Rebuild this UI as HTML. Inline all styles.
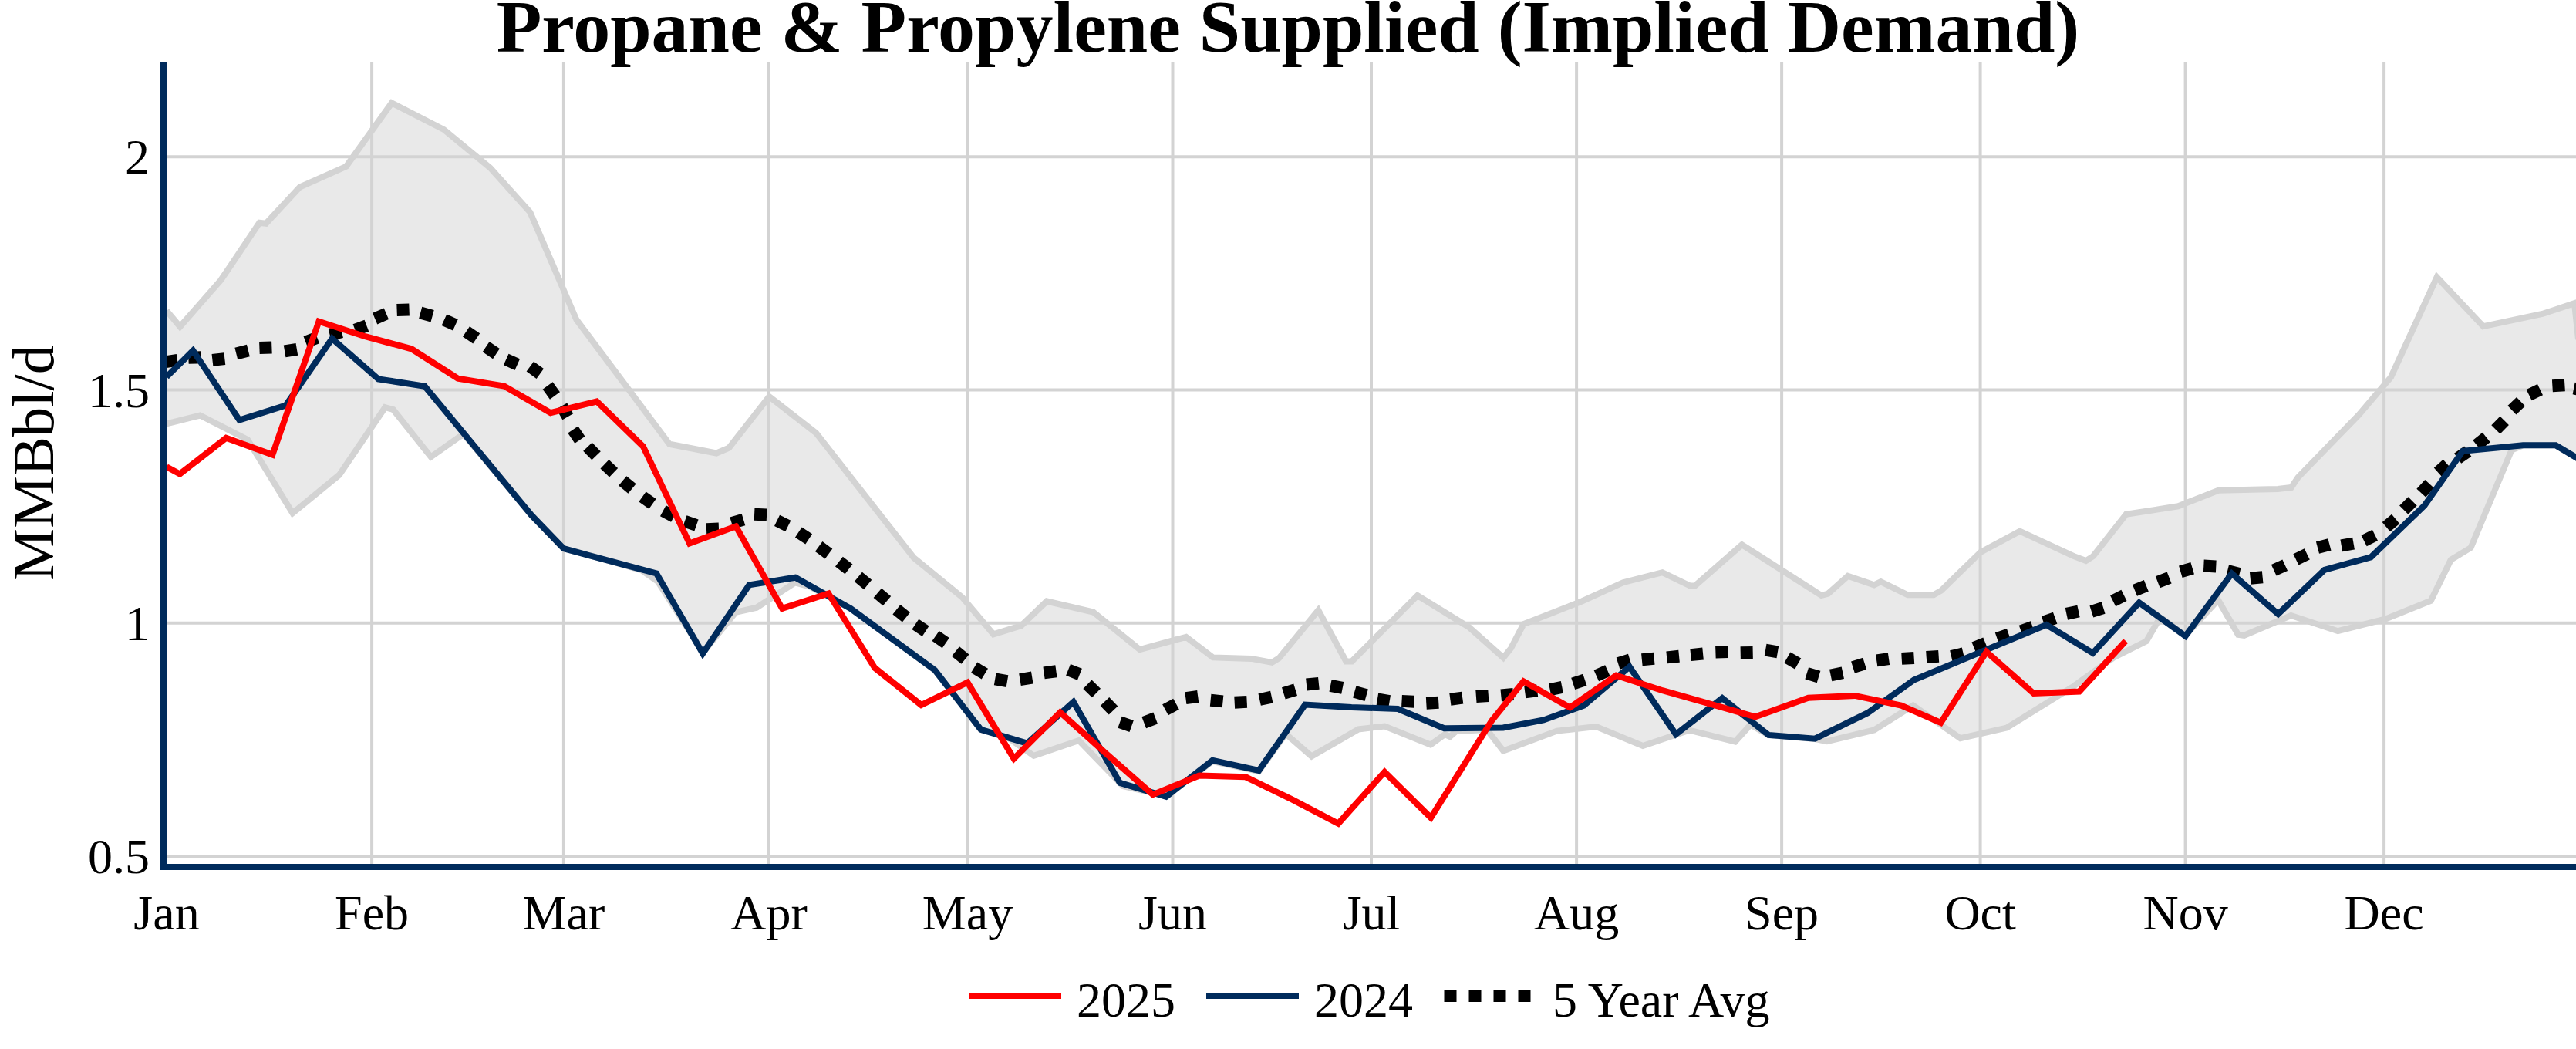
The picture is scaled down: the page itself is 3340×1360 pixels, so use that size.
<!DOCTYPE html>
<html><head><meta charset="utf-8"><title>Propane &amp; Propylene Supplied (Implied Demand)</title>
<style>html,body{margin:0;padding:0;background:#fff}svg{display:block}text{font-family:"Liberation Serif",serif;fill:#000}</style></head><body>
<svg width="3340" height="1360" viewBox="0 0 3340 1360">
<rect width="3340" height="1360" fill="#fff"/>
<defs><clipPath id="plot"><rect x="216" y="80" width="3124" height="1040"/></clipPath></defs>
<g stroke="#d3d3d3" stroke-width="4"><line x1="482.1" x2="482.1" y1="80" y2="1120"/><line x1="730.9" x2="730.9" y1="80" y2="1120"/><line x1="997.0" x2="997.0" y1="80" y2="1120"/><line x1="1254.5" x2="1254.5" y1="80" y2="1120"/><line x1="1520.5" x2="1520.5" y1="80" y2="1120"/><line x1="1778.0" x2="1778.0" y1="80" y2="1120"/><line x1="2044.1" x2="2044.1" y1="80" y2="1120"/><line x1="2310.1" x2="2310.1" y1="80" y2="1120"/><line x1="2567.6" x2="2567.6" y1="80" y2="1120"/><line x1="2833.6" x2="2833.6" y1="80" y2="1120"/><line x1="3091.1" x2="3091.1" y1="80" y2="1120"/><line x1="216" x2="3340" y1="203.2" y2="203.2"/><line x1="216" x2="3340" y1="505.5" y2="505.5"/><line x1="216" x2="3340" y1="807.7" y2="807.7"/><line x1="216" x2="3340" y1="1110" y2="1110"/></g>
<g clip-path="url(#plot)">
<polygon points="216.0,402.9 233.4,423.5 286.2,363.3 300.0,343.0 336.3,288.7 344.9,289.8 388.7,242.6 448.8,215.8 507.9,133.5 575.5,168.0 635.6,217.6 687.3,275.2 747.4,414.5 868.1,575.8 928.9,587.5 945.1,580.7 997.3,514.0 1058.1,561.4 1184.8,723.1 1247.7,774.5 1288.1,822.3 1324.1,811.1 1357.2,779.5 1417.4,793.5 1477.8,842.0 1537.9,825.8 1572.7,852.4 1622.4,853.9 1649.2,858.9 1658.4,853.2 1709.3,791.1 1745.3,857.4 1752.8,857.4 1837.9,772.0 1904.5,813.0 1949.2,852.8 1959.1,840.4 1975.3,809.3 2051.1,779.5 2104.5,755.2 2155.4,742.2 2191.4,759.6 2197.6,759.6 2258.5,706.2 2361.6,772.0 2370.3,769.6 2395.9,746.7 2429.9,758.4 2438.6,754.2 2473.5,771.3 2507.1,771.3 2517.0,765.6 2567.9,715.9 2618.9,688.6 2688.4,720.9 2704.6,727.0 2714.0,721.0 2756.7,666.8 2824.2,656.3 2876.4,635.7 2953.4,633.9 2970.8,631.9 2979.5,619.0 3057.8,538.5 3100.0,489.0 3159.6,359.3 3219.8,423.2 3296.3,407.0 3338.0,393.2 3343.0,440.0 3345.0,596.0 3313.7,577.3 3271.4,577.3 3256.5,583.5 3203.6,710.1 3177.7,725.9 3151.8,778.8 3093.3,802.5 3031.3,818.2 2970.5,798.0 2909.7,823.8 2901.9,822.7 2876.0,777.7 2833.6,824.0 2805.0,803.0 2797.5,806.2 2783.0,831.3 2740.6,852.5 2727.0,862.1 2688.4,889.8 2601.8,943.6 2541.7,957.2 2480.5,914.5 2430.0,946.5 2368.9,961.1 2353.3,958.0 2293.0,953.0 2269.7,939.6 2249.8,961.5 2190.2,946.6 2130.1,967.0 2069.7,942.1 2018.8,947.6 1949.2,973.4 1928.0,946.0 1888.0,948.0 1880.0,955.0 1873.4,952.0 1854.8,965.5 1795.4,941.5 1761.3,945.5 1700.6,980.5 1667.0,951.3 1632.2,1000.0 1572.1,987.0 1512.0,1032.0 1456.0,1019.0 1398.8,960.0 1340.4,979.9 1306.8,956.3 1271.7,946.0 1212.2,869.0 1102.9,789.0 1050.0,760.5 1030.8,755.4 981.1,787.7 953.8,793.9 911.5,846.0 853.0,754.0 832.0,739.5 791.0,727.3 730.9,711.2 689.2,668.1 602.0,564.0 596.0,566.0 558.7,592.4 509.8,531.0 499.3,528.2 439.9,615.7 379.4,665.3 321.1,570.0 259.4,538.5 216.0,549.4" fill="rgb(211,211,211)" fill-opacity="0.5"/>
<polyline points="216.0,549.4 259.4,538.5 321.1,570.0 379.4,665.3 439.9,615.7 499.3,528.2 509.8,531.0 558.7,592.4 596.0,566.0 602.0,564.0 689.2,668.1 730.9,711.2 791.0,727.3 832.0,739.5 853.0,754.0 911.5,846.0 953.8,793.9 981.1,787.7 1030.8,755.4 1050.0,760.5 1102.9,789.0 1212.2,869.0 1271.7,946.0 1306.8,956.3 1340.4,979.9 1398.8,960.0 1456.0,1019.0 1512.0,1032.0 1572.1,987.0 1632.2,1000.0 1667.0,951.3 1700.6,980.5 1761.3,945.5 1795.4,941.5 1854.8,965.5 1873.4,952.0 1880.0,955.0 1888.0,948.0 1928.0,946.0 1949.2,973.4 2018.8,947.6 2069.7,942.1 2130.1,967.0 2190.2,946.6 2249.8,961.5 2269.7,939.6 2293.0,953.0 2353.3,958.0 2368.9,961.1 2430.0,946.5 2480.5,914.5 2541.7,957.2 2601.8,943.6 2688.4,889.8 2727.0,862.1 2740.6,852.5 2783.0,831.3 2797.5,806.2 2805.0,803.0 2833.6,824.0 2876.0,777.7 2901.9,822.7 2909.7,823.8 2970.5,798.0 3031.3,818.2 3093.3,802.5 3151.8,778.8 3177.7,725.9 3203.6,710.1 3256.5,583.5 3271.4,577.3 3313.7,577.3 3345.0,596.0" fill="none" stroke="#d3d3d3" stroke-width="8" stroke-linejoin="miter"/>
<polyline points="216.0,402.9 233.4,423.5 286.2,363.3 300.0,343.0 336.3,288.7 344.9,289.8 388.7,242.6 448.8,215.8 507.9,133.5 575.5,168.0 635.6,217.6 687.3,275.2 747.4,414.5 868.1,575.8 928.9,587.5 945.1,580.7 997.3,514.0 1058.1,561.4 1184.8,723.1 1247.7,774.5 1288.1,822.3 1324.1,811.1 1357.2,779.5 1417.4,793.5 1477.8,842.0 1537.9,825.8 1572.7,852.4 1622.4,853.9 1649.2,858.9 1658.4,853.2 1709.3,791.1 1745.3,857.4 1752.8,857.4 1837.9,772.0 1904.5,813.0 1949.2,852.8 1959.1,840.4 1975.3,809.3 2051.1,779.5 2104.5,755.2 2155.4,742.2 2191.4,759.6 2197.6,759.6 2258.5,706.2 2361.6,772.0 2370.3,769.6 2395.9,746.7 2429.9,758.4 2438.6,754.2 2473.5,771.3 2507.1,771.3 2517.0,765.6 2567.9,715.9 2618.9,688.6 2688.4,720.9 2704.6,727.0 2714.0,721.0 2756.7,666.8 2824.2,656.3 2876.4,635.7 2953.4,633.9 2970.8,631.9 2979.5,619.0 3057.8,538.5 3100.0,489.0 3159.6,359.3 3219.8,423.2 3296.3,407.0 3338.0,393.2 3343.0,440.0" fill="none" stroke="#d3d3d3" stroke-width="8" stroke-linejoin="miter"/>
<g fill="#000"><rect x="-8" y="-8" width="16" height="16" transform="translate(222.1,468.1) rotate(-8.6)"/><rect x="-8" y="-8" width="16" height="16" transform="translate(252.4,463.5) rotate(-2.0)"/><rect x="-8" y="-8" width="16" height="16" transform="translate(283.4,466.0) rotate(-6.5)"/><rect x="-8" y="-8" width="16" height="16" transform="translate(314.1,456.5) rotate(-14.1)"/><rect x="-8" y="-8" width="16" height="16" transform="translate(344.4,450.7) rotate(-2.2)"/><rect x="-8" y="-8" width="16" height="16" transform="translate(377.0,454.1) rotate(-9.6)"/><rect x="-8" y="-8" width="16" height="16" transform="translate(403.8,440.6) rotate(-20.8)"/><rect x="-8" y="-8" width="16" height="16" transform="translate(435.3,432.0) rotate(-13.7)"/><rect x="-8" y="-8" width="16" height="16" transform="translate(467.9,425.0) rotate(-20.8)"/><rect x="-8" y="-8" width="16" height="16" transform="translate(493.5,409.9) rotate(-23.1)"/><rect x="-8" y="-8" width="16" height="16" transform="translate(522.6,401.7) rotate(-2.2)"/><rect x="-8" y="-8" width="16" height="16" transform="translate(552.9,407.6) rotate(15.1)"/><rect x="-8" y="-8" width="16" height="16" transform="translate(583.2,418.0) rotate(24.6)"/><rect x="-8" y="-8" width="16" height="16" transform="translate(611.1,434.3) rotate(34.0)"/><rect x="-8" y="-8" width="16" height="16" transform="translate(636.8,454.1) rotate(33.7)"/><rect x="-8" y="-8" width="16" height="16" transform="translate(663.5,469.3) rotate(24.3)"/><rect x="-8" y="-8" width="16" height="16" transform="translate(693.8,479.8) rotate(35.9)"/><rect x="-8" y="-8" width="16" height="16" transform="translate(714.8,506.5) rotate(54.3)"/><rect x="-8" y="-8" width="16" height="16" transform="translate(732.3,533.3) rotate(60.3)"/><rect x="-8" y="-8" width="16" height="16" transform="translate(747.4,563.6) rotate(55.8)"/><rect x="-8" y="-8" width="16" height="16" transform="translate(767.5,585.0) rotate(45.9)"/><rect x="-8" y="-8" width="16" height="16" transform="translate(789.8,607.3) rotate(43.4)"/><rect x="-8" y="-8" width="16" height="16" transform="translate(813.4,628.4) rotate(39.7)"/><rect x="-8" y="-8" width="16" height="16" transform="translate(839.5,648.6) rotate(35.2)"/><rect x="-8" y="-8" width="16" height="16" transform="translate(866.8,666.0) rotate(28.1)"/><rect x="-8" y="-8" width="16" height="16" transform="translate(895.4,678.4) rotate(19.1)"/><rect x="-8" y="-8" width="16" height="16" transform="translate(924.0,685.8) rotate(-2.4)"/><rect x="-8" y="-8" width="16" height="16" transform="translate(956.3,675.9) rotate(-16.7)"/><rect x="-8" y="-8" width="16" height="16" transform="translate(986.1,667.2) rotate(2.5)"/><rect x="-8" y="-8" width="16" height="16" transform="translate(1014.7,678.4) rotate(26.0)"/><rect x="-8" y="-8" width="16" height="16" transform="translate(1042.0,694.5) rotate(33.1)"/><rect x="-8" y="-8" width="16" height="16" transform="translate(1068.1,713.2) rotate(36.4)"/><rect x="-8" y="-8" width="16" height="16" transform="translate(1094.2,733.0) rotate(38.0)"/><rect x="-8" y="-8" width="16" height="16" transform="translate(1119.0,752.9) rotate(39.5)"/><rect x="-8" y="-8" width="16" height="16" transform="translate(1143.9,774.0) rotate(40.4)"/><rect x="-8" y="-8" width="16" height="16" transform="translate(1168.7,795.2) rotate(38.7)"/><rect x="-8" y="-8" width="16" height="16" transform="translate(1193.5,813.8) rotate(33.6)"/><rect x="-8" y="-8" width="16" height="16" transform="translate(1219.7,829.1) rotate(34.7)"/><rect x="-8" y="-8" width="16" height="16" transform="translate(1245.2,849.6) rotate(38.8)"/><rect x="-8" y="-8" width="16" height="16" transform="translate(1270.0,869.5) rotate(31.2)"/><rect x="-8" y="-8" width="16" height="16" transform="translate(1298.1,881.7) rotate(9.7)"/><rect x="-8" y="-8" width="16" height="16" transform="translate(1330.4,879.8) rotate(-9.3)"/><rect x="-8" y="-8" width="16" height="16" transform="translate(1361.5,871.3) rotate(-7.8)"/><rect x="-8" y="-8" width="16" height="16" transform="translate(1392.5,871.3) rotate(21.7)"/><rect x="-8" y="-8" width="16" height="16" transform="translate(1415.7,892.9) rotate(44.0)"/><rect x="-8" y="-8" width="16" height="16" transform="translate(1438.0,915.3) rotate(46.3)"/><rect x="-8" y="-8" width="16" height="16" transform="translate(1459.6,938.9) rotate(19.4)"/><rect x="-8" y="-8" width="16" height="16" transform="translate(1490.7,933.9) rotate(-21.0)"/><rect x="-8" y="-8" width="16" height="16" transform="translate(1518.0,916.5) rotate(-28.6)"/><rect x="-8" y="-8" width="16" height="16" transform="translate(1545.3,904.1) rotate(-7.6)"/><rect x="-8" y="-8" width="16" height="16" transform="translate(1577.6,908.6) rotate(5.6)"/><rect x="-8" y="-8" width="16" height="16" transform="translate(1608.7,910.3) rotate(-3.0)"/><rect x="-8" y="-8" width="16" height="16" transform="translate(1641.0,905.3) rotate(-12.2)"/><rect x="-8" y="-8" width="16" height="16" transform="translate(1672.0,896.6) rotate(-17.0)"/><rect x="-8" y="-8" width="16" height="16" transform="translate(1701.9,886.7) rotate(-5.8)"/><rect x="-8" y="-8" width="16" height="16" transform="translate(1732.9,890.4) rotate(11.3)"/><rect x="-8" y="-8" width="16" height="16" transform="translate(1764.0,899.1) rotate(15.9)"/><rect x="-8" y="-8" width="16" height="16" transform="translate(1793.8,907.8) rotate(9.4)"/><rect x="-8" y="-8" width="16" height="16" transform="translate(1825.5,909.3) rotate(3.1)"/><rect x="-8" y="-8" width="16" height="16" transform="translate(1857.3,911.2) rotate(-3.3)"/><rect x="-8" y="-8" width="16" height="16" transform="translate(1888.3,905.7) rotate(-7.7)"/><rect x="-8" y="-8" width="16" height="16" transform="translate(1921.9,902.5) rotate(-4.3)"/><rect x="-8" y="-8" width="16" height="16" transform="translate(1954.2,900.7) rotate(-5.6)"/><rect x="-8" y="-8" width="16" height="16" transform="translate(1985.2,896.3) rotate(-7.4)"/><rect x="-8" y="-8" width="16" height="16" transform="translate(2017.5,892.5) rotate(-11.3)"/><rect x="-8" y="-8" width="16" height="16" transform="translate(2047.3,883.9) rotate(-18.4)"/><rect x="-8" y="-8" width="16" height="16" transform="translate(2077.1,872.7) rotate(-24.1)"/><rect x="-8" y="-8" width="16" height="16" transform="translate(2105.7,857.8) rotate(-17.0)"/><rect x="-8" y="-8" width="16" height="16" transform="translate(2136.8,854.5) rotate(-5.6)"/><rect x="-8" y="-8" width="16" height="16" transform="translate(2169.1,851.6) rotate(-5.6)"/><rect x="-8" y="-8" width="16" height="16" transform="translate(2200.1,848.3) rotate(-5.7)"/><rect x="-8" y="-8" width="16" height="16" transform="translate(2232.4,845.3) rotate(-2.0)"/><rect x="-8" y="-8" width="16" height="16" transform="translate(2264.7,846.1) rotate(-1.1)"/><rect x="-8" y="-8" width="16" height="16" transform="translate(2297.0,844.1) rotate(9.9)"/><rect x="-8" y="-8" width="16" height="16" transform="translate(2324.3,856.5) rotate(30.2)"/><rect x="-8" y="-8" width="16" height="16" transform="translate(2350.4,875.2) rotate(16.9)"/><rect x="-8" y="-8" width="16" height="16" transform="translate(2381.5,873.9) rotate(-11.8)"/><rect x="-8" y="-8" width="16" height="16" transform="translate(2410.1,862.7) rotate(-17.3)"/><rect x="-8" y="-8" width="16" height="16" transform="translate(2441.1,855.3) rotate(-8.3)"/><rect x="-8" y="-8" width="16" height="16" transform="translate(2473.7,853.4) rotate(-3.5)"/><rect x="-8" y="-8" width="16" height="16" transform="translate(2505.7,851.4) rotate(-3.8)"/><rect x="-8" y="-8" width="16" height="16" transform="translate(2537.8,849.1) rotate(-13.3)"/><rect x="-8" y="-8" width="16" height="16" transform="translate(2566.9,836.9) rotate(-22.0)"/><rect x="-8" y="-8" width="16" height="16" transform="translate(2597.0,825.2) rotate(-19.3)"/><rect x="-8" y="-8" width="16" height="16" transform="translate(2628.0,815.5) rotate(-19.5)"/><rect x="-8" y="-8" width="16" height="16" transform="translate(2657.1,803.9) rotate(-19.8)"/><rect x="-8" y="-8" width="16" height="16" transform="translate(2687.2,794.2) rotate(-12.2)"/><rect x="-8" y="-8" width="16" height="16" transform="translate(2719.5,790.4) rotate(-17.4)"/><rect x="-8" y="-8" width="16" height="16" transform="translate(2746.8,775.5) rotate(-26.6)"/><rect x="-8" y="-8" width="16" height="16" transform="translate(2775.4,762.4) rotate(-22.0)"/><rect x="-8" y="-8" width="16" height="16" transform="translate(2805.2,751.9) rotate(-21.4)"/><rect x="-8" y="-8" width="16" height="16" transform="translate(2835.0,739.0) rotate(-16.6)"/><rect x="-8" y="-8" width="16" height="16" transform="translate(2865.3,734.0) rotate(2.8)"/><rect x="-8" y="-8" width="16" height="16" transform="translate(2895.9,742.0) rotate(13.9)"/><rect x="-8" y="-8" width="16" height="16" transform="translate(2925.7,749.0) rotate(-5.7)"/><rect x="-8" y="-8" width="16" height="16" transform="translate(2955.5,736.0) rotate(-24.9)"/><rect x="-8" y="-8" width="16" height="16" transform="translate(2984.1,721.9) rotate(-26.1)"/><rect x="-8" y="-8" width="16" height="16" transform="translate(3012.7,708.0) rotate(-14.9)"/><rect x="-8" y="-8" width="16" height="16" transform="translate(3043.7,706.0) rotate(-10.0)"/><rect x="-8" y="-8" width="16" height="16" transform="translate(3072.3,697.5) rotate(-26.5)"/><rect x="-8" y="-8" width="16" height="16" transform="translate(3100.0,677.9) rotate(-40.0)"/><rect x="-8" y="-8" width="16" height="16" transform="translate(3122.4,655.5) rotate(-45.0)"/><rect x="-8" y="-8" width="16" height="16" transform="translate(3144.7,633.2) rotate(-47.3)"/><rect x="-8" y="-8" width="16" height="16" transform="translate(3167.1,607.1) rotate(-41.9)"/><rect x="-8" y="-8" width="16" height="16" transform="translate(3193.2,589.7) rotate(-34.9)"/><rect x="-8" y="-8" width="16" height="16" transform="translate(3217.5,572.0) rotate(-38.6)"/><rect x="-8" y="-8" width="16" height="16" transform="translate(3241.6,551.1) rotate(-45.3)"/><rect x="-8" y="-8" width="16" height="16" transform="translate(3262.7,526.3) rotate(-43.6)"/><rect x="-8" y="-8" width="16" height="16" transform="translate(3286.3,508.6) rotate(-25.9)"/><rect x="-8" y="-8" width="16" height="16" transform="translate(3317.4,499.7) rotate(-3.5)"/><rect x="-8" y="-8" width="16" height="16" transform="translate(3345.0,505.0) rotate(10.9)"/></g>
<polyline points="216.0,488.5 250.3,454.6 310.4,544.6 370.5,525.6 430.6,439.0 490.6,491.4 550.7,500.7 689.2,668.1 730.9,711.2 791.0,727.3 851.1,743.5 911.2,847.3 971.3,758.4 1031.3,748.7 1102.9,788.9 1212.2,868.8 1271.7,945.8 1331.8,963.7 1391.8,910.0 1451.9,1014.8 1512.0,1032.9 1572.1,985.9 1632.2,999.0 1692.2,913.5 1752.3,917.0 1812.4,919.0 1872.5,944.2 1949.0,943.5 2001.4,933.4 2053.5,914.8 2112.8,864.5 2172.9,952.1 2233.0,905.2 2293.1,952.9 2353.3,957.7 2421.7,924.2 2481.5,881.5 2653.4,810.0 2713.5,846.7 2773.6,781.3 2833.6,824.7 2893.7,743.5 2953.8,796.1 3013.9,738.9 3074.0,722.3 3143.5,655.5 3193.2,584.7 3271.4,577.3 3313.7,577.3 3345.0,596.0" fill="none" stroke="#002b5c" stroke-width="8" stroke-linejoin="miter" stroke-miterlimit="4"/>
<polyline points="216.0,605.2 233.2,614.5 293.2,567.8 353.3,589.6 413.4,416.8 473.5,436.2 533.5,452.3 593.6,490.7 653.7,500.5 713.8,535.2 773.8,520.5 833.9,578.8 894.0,704.4 954.1,682.4 1014.2,788.9 1074.2,769.5 1134.3,866.0 1194.4,914.0 1254.5,884.7 1314.6,983.6 1374.6,923.5 1434.7,977.5 1494.8,1030.2 1554.9,1005.6 1615.0,1007.3 1675.1,1036.4 1735.2,1067.7 1795.2,1000.8 1855.2,1060.2 1934.0,934.5 1975.4,883.3 2035.5,917.2 2095.6,875.6 2155.6,895.2 2215.7,912.2 2275.8,929.3 2344.6,904.8 2404.8,901.9 2465.0,914.5 2516.4,936.9 2575.6,845.0 2636.8,899.0 2696.0,896.5 2756.1,831.0" fill="none" stroke="#ff0000" stroke-width="8" stroke-linejoin="miter" stroke-miterlimit="4"/>
</g>
<rect x="208" y="80" width="8" height="1048" fill="#002b5c"/>
<rect x="208" y="1120" width="3132" height="8" fill="#002b5c"/>
<text x="1670" y="67" text-anchor="middle" font-size="96" font-weight="bold">Propane &amp; Propylene Supplied (Implied Demand)</text>
<text x="194" y="225.2" text-anchor="end" font-size="64">2</text>
<text x="194" y="527.5" text-anchor="end" font-size="64">1.5</text>
<text x="194" y="829.7" text-anchor="end" font-size="64">1</text>
<text x="194" y="1132.0" text-anchor="end" font-size="64">0.5</text>
<text x="216.0" y="1205" text-anchor="middle" font-size="64">Jan</text>
<text x="482.1" y="1205" text-anchor="middle" font-size="64">Feb</text>
<text x="730.9" y="1205" text-anchor="middle" font-size="64">Mar</text>
<text x="997.0" y="1205" text-anchor="middle" font-size="64">Apr</text>
<text x="1254.5" y="1205" text-anchor="middle" font-size="64">May</text>
<text x="1520.5" y="1205" text-anchor="middle" font-size="64">Jun</text>
<text x="1778.0" y="1205" text-anchor="middle" font-size="64">Jul</text>
<text x="2044.1" y="1205" text-anchor="middle" font-size="64">Aug</text>
<text x="2310.1" y="1205" text-anchor="middle" font-size="64">Sep</text>
<text x="2567.6" y="1205" text-anchor="middle" font-size="64">Oct</text>
<text x="2833.6" y="1205" text-anchor="middle" font-size="64">Nov</text>
<text x="3091.1" y="1205" text-anchor="middle" font-size="64">Dec</text>
<text transform="translate(69,600) rotate(-90)" text-anchor="middle" font-size="76.5">MMBbl/d</text>
<line x1="1256" x2="1376" y1="1291" y2="1291" stroke="#ff0000" stroke-width="8"/>
<text x="1396" y="1318" font-size="64">2025</text>
<line x1="1564" x2="1684" y1="1291" y2="1291" stroke="#002b5c" stroke-width="8"/>
<text x="1704" y="1318" font-size="64">2024</text>
<line x1="1872.5" x2="1992.5" y1="1291" y2="1291" stroke="#000" stroke-width="16" stroke-dasharray="16 16"/>
<text x="2013" y="1318" font-size="64">5 Year Avg</text>
</svg></body></html>
